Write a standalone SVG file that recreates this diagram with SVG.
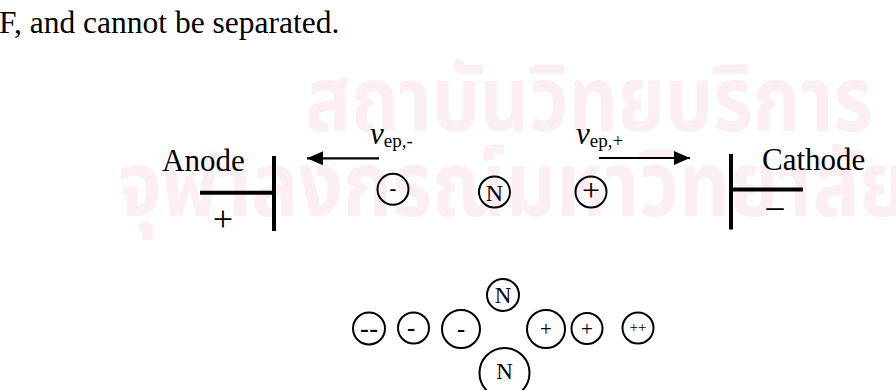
<svg xmlns="http://www.w3.org/2000/svg" width="896" height="390" viewBox="0 0 896 390">
<defs>
<style>
.t{font-family:"Liberation Serif","Times New Roman",serif;fill:#000}
.s{font-family:"Liberation Sans",Arial,sans-serif;fill:#000}
.bar{stroke:#000;stroke-width:4;fill:none}
.ion{fill:none;stroke:#000;stroke-width:2}
.arr{stroke:#000;stroke-width:2.2;fill:none}
.wm{font-family:"Noto Sans Thai","Noto Sans","DejaVu Sans",sans-serif;fill:#fbeff3;font-weight:bold}
</style>
<marker id="ah" markerUnits="userSpaceOnUse" markerWidth="17" markerHeight="15" refX="16" refY="7" orient="auto">
<path d="M0,0 L16,7 L0,14 z" fill="#000"/>
</marker>
</defs>
<rect width="896" height="390" fill="#fff"/>
<g id="watermark">
<text class="wm" x="305" y="131" font-size="90" textLength="568" lengthAdjust="spacingAndGlyphs">สถาบันวิทยบริการ</text>
<text class="wm" x="118" y="216" font-size="90" textLength="790" lengthAdjust="spacingAndGlyphs">จุฬาลงกรณ์มหาวิทยาลัย</text>
</g>
<text class="t" x="-1" y="33" font-size="31.5">F, and cannot be separated.</text>
<g id="anode">
<text class="t" x="162" y="170.5" font-size="31">Anode</text>
<line class="bar" x1="200" y1="192.7" x2="274" y2="192.7"/>
<line class="bar" x1="274" y1="156" x2="274" y2="231"/>
<text class="t" x="223" y="231" font-size="36" text-anchor="middle">+</text>
</g>
<g id="cathode">
<text class="t" x="762" y="169.5" font-size="31">Cathode</text>
<line class="bar" x1="731" y1="189.5" x2="803" y2="189.5"/>
<line class="bar" x1="731" y1="154" x2="731" y2="229.5"/>
<text class="t" x="775" y="217" font-size="34" text-anchor="middle">–</text>
</g>
<g id="connectors">
<line class="arr" x1="379" y1="158.3" x2="307" y2="158.3" marker-end="url(#ah)"/>
<line class="arr" x1="599" y1="158" x2="690" y2="158" marker-end="url(#ah)"/>
</g>
<g id="label-minus">
<text class="t" x="370" y="144"><tspan font-size="31" font-style="italic">v</tspan><tspan font-size="19" dy="3">ep,-</tspan></text>
</g>
<g id="label-plus">
<text class="t" x="576" y="144"><tspan font-size="31" font-style="italic">v</tspan><tspan font-size="19" dy="3">ep,+</tspan></text>
</g>
<g id="ion-minus">
<circle class="ion" cx="393" cy="189.3" r="15.5"/>
<text class="s" x="393" y="196" font-size="22" text-anchor="middle">-</text>
</g>
<g id="ion-neutral">
<circle class="ion" cx="494.5" cy="192" r="15.5"/>
<text class="t" x="494.5" y="200.5" font-size="24" text-anchor="middle">N</text>
</g>
<g id="ion-plus">
<circle class="ion" cx="591" cy="192" r="15.5"/>
<text class="t" x="591" y="201" font-size="32" text-anchor="middle">+</text>
</g>
<g id="b-dminus">
<circle class="ion" cx="369" cy="328.5" r="16"/>
<text class="s" x="369" y="337.5" font-size="28" text-anchor="middle">--</text>
</g>
<g id="b-minus-small">
<circle class="ion" cx="413.5" cy="328" r="15.5"/>
<text class="s" x="411" y="337" font-size="26" text-anchor="middle">-</text>
</g>
<g id="b-minus-big">
<circle class="ion" cx="461" cy="329" r="19"/>
<text class="s" x="461" y="338" font-size="26" text-anchor="middle">-</text>
</g>
<g id="b-n-top">
<circle class="ion" cx="503" cy="295" r="16"/>
<text class="t" x="503" y="303" font-size="23" text-anchor="middle">N</text>
</g>
<g id="b-n-bottom">
<circle class="ion" cx="504.5" cy="373" r="25"/>
<text class="t" x="504.5" y="378.5" font-size="23" text-anchor="middle">N</text>
</g>
<g id="b-plus-big">
<circle class="ion" cx="546" cy="329" r="19"/>
<text class="t" x="546" y="336" font-size="21" text-anchor="middle">+</text>
</g>
<g id="b-plus-small">
<circle class="ion" cx="587" cy="328.5" r="15.5"/>
<text class="t" x="587" y="335.5" font-size="21" text-anchor="middle">+</text>
</g>
<g id="b-dplus">
<circle class="ion" cx="638" cy="328" r="15.5"/>
<text class="t" x="638" y="331.5" font-size="15" text-anchor="middle">++</text>
</g>
</svg>
